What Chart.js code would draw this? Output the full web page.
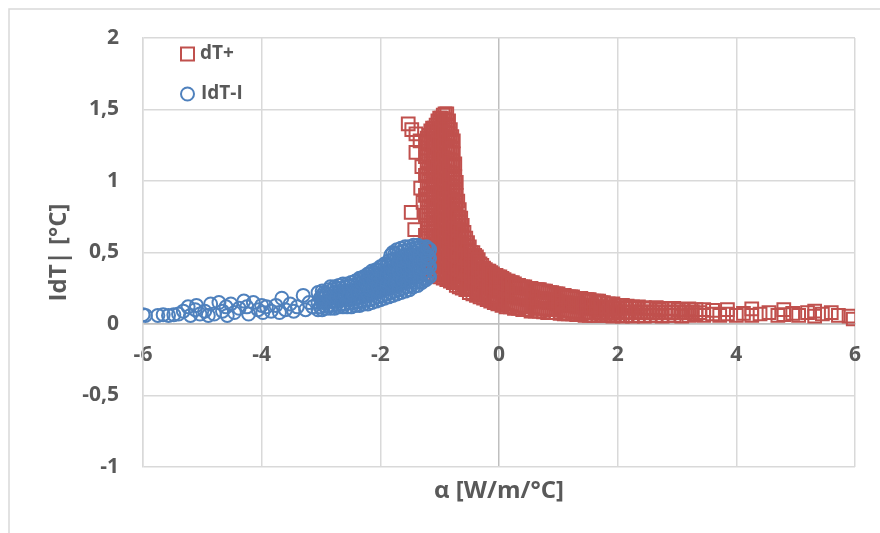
<!DOCTYPE html>
<html>
<head>
<meta charset="utf-8">
<script src="https://cdn.jsdelivr.net/npm/chart.js@4.4.0/dist/chart.umd.min.js"></script>
<style>
  html, body { margin: 0; padding: 0; background: #fff; }
</style>
</head>
<body>
<canvas id="chart" width="880" height="533"></canvas>
<script>
// values
const xTicks = [-6, -4, -2, 0, 2, 4, 6];
const yTicks = [-1, -0.5, 0, 0.5, 1, 1.5, 2];
const seriesNames = ['dT+', 'IdT-I'];
const xTitle = 'α [W/m/°C]';
const yTitle = 'IdT| [°C]';

// dT+ : isolated squares left of the peak
const dtPlusStray = [
    [-1.53, 1.40], [-1.47, 1.36], [-1.40, 1.33], [-1.33, 1.28], [-1.40, 1.20],
    [-1.30, 1.10], [-1.32, 0.95], [-1.28, 0.85], [-1.48, 0.78], [-1.42, 0.66]
];

// dT+ : x with the y values found at that x
const dtPlusCols = [
    [-1.24, [0.48, 0.62, 0.76, 0.90, 1.04, 1.17, 1.27]],
    [-1.18, [0.37, 0.46, 0.55, 0.64, 0.73, 0.82, 0.91, 1.00, 1.09, 1.18, 1.27, 1.32]],
    [-1.12, [0.35, 0.44, 0.53, 0.62, 0.71, 0.80, 0.89, 0.98, 1.07, 1.16, 1.25, 1.34, 1.37]],
    [-1.06, [0.34, 0.43, 0.52, 0.61, 0.70, 0.79, 0.88, 0.97, 1.06, 1.15, 1.24, 1.33, 1.39]],
    [-1.00, [0.33, 0.42, 0.51, 0.60, 0.69, 0.78, 0.87, 0.96, 1.05, 1.14, 1.23, 1.32, 1.41, 1.44]],
    [-0.94, [0.32, 0.41, 0.50, 0.59, 0.68, 0.77, 0.86, 0.95, 1.04, 1.13, 1.22, 1.31, 1.40, 1.46]],
    [-0.88, [0.31, 0.40, 0.49, 0.58, 0.67, 0.76, 0.85, 0.94, 1.03, 1.12, 1.21, 1.30, 1.39, 1.47]],
    [-0.82, [0.30, 0.39, 0.48, 0.57, 0.66, 0.75, 0.84, 0.93, 1.02, 1.11, 1.20, 1.29, 1.36]],
    [-0.77, [0.29, 0.38, 0.47, 0.56, 0.65, 0.74, 0.83, 0.92, 1.01, 1.10, 1.19, 1.28]],
    [-0.72, [0.27, 0.36, 0.45, 0.54, 0.63, 0.72, 0.81, 0.90, 0.99]],
    [-0.67, [0.26, 0.35, 0.44, 0.53, 0.62, 0.71, 0.80]],
    [-0.62, [0.25, 0.34, 0.43, 0.52, 0.61, 0.69]],
    [-0.56, [0.24, 0.33, 0.42, 0.51, 0.60]],
    [-0.50, [0.22, 0.31, 0.40, 0.48, 0.54]],
    [-0.44, [0.21, 0.30, 0.39, 0.46, 0.50]],
    [-0.38, [0.20, 0.29, 0.37, 0.44, 0.47]],
    [-0.32, [0.19, 0.28, 0.36, 0.42]],
    [-0.26, [0.18, 0.27, 0.34, 0.39]],
    [-0.20, [0.17, 0.26, 0.33, 0.37]],
    [-0.14, [0.16, 0.25, 0.31, 0.36]],
    [-0.08, [0.15, 0.24, 0.30, 0.34]],
    [-0.02, [0.14, 0.23, 0.29, 0.33]],
    [0.05, [0.13, 0.22, 0.28, 0.32]],
    [0.12, [0.12, 0.21, 0.27, 0.30]],
    [0.19, [0.12, 0.20, 0.26, 0.29]],
    [0.26, [0.11, 0.19, 0.25, 0.28]],
    [0.33, [0.11, 0.18, 0.27]],
    [0.40, [0.10, 0.18, 0.26]],
    [0.47, [0.10, 0.17, 0.25]],
    [0.54, [0.09, 0.17, 0.25]],
    [0.61, [0.09, 0.16, 0.24]],
    [0.68, [0.09, 0.16, 0.24]],
    [0.75, [0.085, 0.16, 0.23]],
    [0.82, [0.08, 0.15, 0.22]],
    [0.89, [0.08, 0.15, 0.22]],
    [0.96, [0.08, 0.14, 0.21]],
    [1.03, [0.075, 0.14, 0.20]],
    [1.10, [0.07, 0.13, 0.20]],
    [1.17, [0.07, 0.13, 0.19]],
    [1.24, [0.07, 0.13, 0.19]],
    [1.31, [0.065, 0.12, 0.18]],
    [1.38, [0.065, 0.12, 0.18]],
    [1.45, [0.06, 0.12, 0.17]],
    [1.52, [0.06, 0.11, 0.17]],
    [1.60, [0.06, 0.11, 0.16]],
    [1.68, [0.06, 0.11, 0.16]],
    [1.76, [0.06, 0.10, 0.15]],
    [1.84, [0.06, 0.14]],
    [1.92, [0.055, 0.14]],
    [2.00, [0.06, 0.13]],
    [2.08, [0.055, 0.13]],
    [2.16, [0.06, 0.125]],
    [2.25, [0.055, 0.12]],
    [2.35, [0.06, 0.12]],
    [2.45, [0.055, 0.115]],
    [2.55, [0.06, 0.11]],
    [2.65, [0.06, 0.115]],
    [2.75, [0.055, 0.11]],
    [2.85, [0.06, 0.105]],
    [2.95, [0.06, 0.11]],
    [3.08, [0.055, 0.10]],
    [3.20, [0.06, 0.105]],
    [3.32, [0.065, 0.10]],
    [3.45, [0.06, 0.10]],
    [3.60, [0.07, 0.095]],
    [3.72, [0.06]],
    [3.85, [0.07, 0.10]],
    [4.00, [0.06]],
    [4.12, [0.075]],
    [4.26, [0.105, 0.06]],
    [4.40, [0.07]],
    [4.55, [0.08]],
    [4.70, [0.06]],
    [4.80, [0.10, 0.065]],
    [4.95, [0.075]],
    [5.05, [0.06]],
    [5.20, [0.08]],
    [5.32, [0.09, 0.055]],
    [5.45, [0.07]],
    [5.60, [0.08]],
    [5.72, [0.06]],
    [5.90, [0.055]],
    [5.97, [0.035]]
];

// dT+ : more points in between, where the cloud is solid
const dtPlusColsMid = [
    [-1.21, [0.42, 0.51, 0.60, 0.69, 0.78, 0.87, 0.96, 1.05, 1.14, 1.23, 1.30]],
    [-1.15, [0.40, 0.49, 0.58, 0.67, 0.76, 0.85, 0.94, 1.03, 1.12, 1.21, 1.30, 1.35]],
    [-1.09, [0.38, 0.47, 0.56, 0.65, 0.74, 0.83, 0.92, 1.01, 1.10, 1.19, 1.28, 1.37]],
    [-1.03, [0.37, 0.46, 0.55, 0.64, 0.73, 0.82, 0.91, 1.00, 1.09, 1.18, 1.27, 1.36, 1.42]],
    [-0.97, [0.36, 0.45, 0.54, 0.63, 0.72, 0.81, 0.90, 0.99, 1.08, 1.17, 1.26, 1.35, 1.44]],
    [-0.91, [0.35, 0.44, 0.53, 0.62, 0.71, 0.80, 0.89, 0.98, 1.07, 1.16, 1.25, 1.34, 1.43, 1.47]],
    [-0.85, [0.34, 0.43, 0.52, 0.61, 0.70, 0.79, 0.88, 0.97, 1.06, 1.15, 1.24, 1.33, 1.42]],
    [-0.795, [0.33, 0.42, 0.51, 0.60, 0.69, 0.78, 0.87, 0.96, 1.05, 1.14, 1.23, 1.31]],
    [-0.745, [0.31, 0.40, 0.49, 0.58, 0.67, 0.76, 0.85, 0.94, 1.03, 1.12]],
    [-0.695, [0.30, 0.39, 0.48, 0.57, 0.66, 0.75, 0.86]],
    [-0.645, [0.29, 0.38, 0.47, 0.56, 0.65, 0.74]],
    [-0.59, [0.28, 0.37, 0.46, 0.55, 0.64]],
    [-0.53, [0.26, 0.35, 0.44, 0.52, 0.57]],
    [-0.47, [0.25, 0.34, 0.43, 0.50]],
    [-0.41, [0.24, 0.33, 0.41, 0.48]],
    [-0.35, [0.23, 0.32, 0.39, 0.45]],
    [-0.29, [0.22, 0.31, 0.37, 0.41]],
    [-0.23, [0.21, 0.30, 0.35, 0.38]],
    [-0.17, [0.20, 0.28, 0.34, 0.37]],
    [-0.11, [0.19, 0.27, 0.33, 0.35]],
    [-0.05, [0.18, 0.26, 0.31, 0.34]],
    [0.015, [0.17, 0.25, 0.30, 0.33]],
    [0.085, [0.16, 0.24, 0.29, 0.31]],
    [0.155, [0.15, 0.23, 0.28, 0.30]],
    [0.225, [0.14, 0.21, 0.27, 0.29]],
    [0.295, [0.13, 0.21, 0.27]],
    [0.365, [0.13, 0.20, 0.26]],
    [0.435, [0.12, 0.20, 0.26]],
    [0.505, [0.12, 0.19, 0.25]],
    [0.575, [0.12, 0.19, 0.24]],
    [0.645, [0.11, 0.18, 0.24]],
    [0.715, [0.11, 0.18, 0.23]],
    [0.785, [0.11, 0.17, 0.23]],
    [0.855, [0.10, 0.17, 0.22]],
    [0.925, [0.10, 0.16, 0.21]],
    [0.995, [0.10, 0.16, 0.21]],
    [1.065, [0.095, 0.15, 0.20]],
    [1.135, [0.09, 0.15, 0.19]],
    [1.205, [0.09, 0.14, 0.19]],
    [1.275, [0.085, 0.14, 0.18]],
    [1.345, [0.085, 0.14, 0.18]],
    [1.415, [0.08, 0.13, 0.17]],
    [1.485, [0.08, 0.13, 0.17]],
    [1.56, [0.08, 0.13, 0.16]],
    [1.64, [0.08, 0.12, 0.16]],
    [1.72, [0.075, 0.12, 0.15]],
    [1.80, [0.08, 0.12]],
    [1.88, [0.075, 0.12]],
    [1.96, [0.08, 0.11]],
    [2.04, [0.085, 0.115]],
    [2.12, [0.08, 0.11]],
    [2.20, [0.085, 0.115]],
    [2.30, [0.08, 0.11]],
    [2.40, [0.085]],
    [2.50, [0.08, 0.105]],
    [2.60, [0.085]],
    [2.70, [0.08, 0.10]],
    [2.80, [0.085]],
    [2.90, [0.08]],
    [3.02, [0.085, 0.10]],
    [3.14, [0.08]],
    [3.26, [0.085]],
    [3.38, [0.08]]
];

// |dT-| : scattered circles on the left
const dtMinusStray = [
    [-6.00, 0.065], [-5.96, 0.06], [-5.75, 0.06], [-5.66, 0.065], [-5.57, 0.06],
    [-5.48, 0.065], [-5.40, 0.07], [-5.32, 0.09], [-5.24, 0.12], [-5.20, 0.06],
    [-5.12, 0.10], [-5.10, 0.13], [-5.04, 0.07], [-4.96, 0.09], [-4.90, 0.06],
    [-4.86, 0.14], [-4.80, 0.07], [-4.72, 0.15], [-4.66, 0.09], [-4.60, 0.12],
    [-4.58, 0.06], [-4.52, 0.14], [-4.46, 0.08], [-4.38, 0.11], [-4.30, 0.16],
    [-4.25, 0.12], [-4.22, 0.07], [-4.14, 0.15], [-4.06, 0.10], [-4.00, 0.13],
    [-3.98, 0.08], [-3.92, 0.12], [-3.84, 0.09], [-3.76, 0.13], [-3.70, 0.08],
    [-3.66, 0.18], [-3.60, 0.10], [-3.52, 0.14], [-3.46, 0.09], [-3.40, 0.12],
    [-3.30, 0.20], [-3.26, 0.10], [-3.20, 0.15], [-3.14, 0.12]
];

// |dT-| : x with the y values found at that x
const dtMinusCols = [
    [-3.05, [0.10, 0.15, 0.22]],
    [-2.98, [0.10, 0.15, 0.20, 0.23]],
    [-2.91, [0.11, 0.16, 0.21]],
    [-2.84, [0.11, 0.16, 0.21, 0.26]],
    [-2.77, [0.11, 0.16, 0.22, 0.26]],
    [-2.70, [0.12, 0.17, 0.22, 0.27]],
    [-2.63, [0.12, 0.17, 0.22, 0.28]],
    [-2.56, [0.12, 0.17, 0.23, 0.28]],
    [-2.49, [0.12, 0.18, 0.23, 0.29]],
    [-2.42, [0.13, 0.18, 0.24, 0.30]],
    [-2.35, [0.13, 0.19, 0.25, 0.32]],
    [-2.28, [0.14, 0.20, 0.26, 0.33]],
    [-2.21, [0.14, 0.20, 0.26, 0.32, 0.35]],
    [-2.14, [0.15, 0.21, 0.27, 0.33, 0.37]],
    [-2.07, [0.16, 0.22, 0.28, 0.34, 0.38]],
    [-2.00, [0.17, 0.23, 0.29, 0.35, 0.40]],
    [-1.93, [0.18, 0.24, 0.30, 0.36, 0.42]],
    [-1.86, [0.19, 0.25, 0.31, 0.37, 0.44]],
    [-1.79, [0.20, 0.26, 0.32, 0.38, 0.45, 0.50]],
    [-1.72, [0.21, 0.27, 0.33, 0.39, 0.46, 0.52]],
    [-1.65, [0.22, 0.28, 0.34, 0.40, 0.47, 0.53]],
    [-1.58, [0.23, 0.29, 0.35, 0.41, 0.48, 0.54]],
    [-1.51, [0.24, 0.30, 0.36, 0.42, 0.48, 0.54]],
    [-1.44, [0.26, 0.32, 0.38, 0.44, 0.50, 0.55]],
    [-1.37, [0.27, 0.33, 0.39, 0.45, 0.51, 0.55]],
    [-1.30, [0.29, 0.35, 0.41, 0.47, 0.53]],
    [-1.23, [0.31, 0.37, 0.43, 0.49, 0.54]],
    [-1.17, [0.33, 0.40, 0.46, 0.52]]
];

// |dT-| : more points in between, where the cloud is solid
const dtMinusColsMid = [
    [-3.015, [0.12, 0.18]],
    [-2.945, [0.13, 0.18, 0.22]],
    [-2.875, [0.13, 0.19, 0.24]],
    [-2.805, [0.13, 0.19, 0.24]],
    [-2.735, [0.14, 0.19, 0.25]],
    [-2.665, [0.14, 0.20, 0.25]],
    [-2.595, [0.14, 0.20, 0.26]],
    [-2.525, [0.15, 0.20, 0.26]],
    [-2.455, [0.15, 0.21, 0.27]],
    [-2.385, [0.16, 0.22, 0.28]],
    [-2.315, [0.16, 0.23, 0.29, 0.32]],
    [-2.245, [0.17, 0.23, 0.29, 0.33]],
    [-2.175, [0.17, 0.24, 0.30, 0.35]],
    [-2.105, [0.18, 0.25, 0.31, 0.36]],
    [-2.035, [0.19, 0.26, 0.32, 0.38]],
    [-1.965, [0.20, 0.26, 0.33, 0.40]],
    [-1.895, [0.21, 0.27, 0.34, 0.41]],
    [-1.825, [0.22, 0.28, 0.35, 0.41, 0.48]],
    [-1.755, [0.23, 0.29, 0.36, 0.42, 0.49]],
    [-1.685, [0.24, 0.30, 0.37, 0.43, 0.50]],
    [-1.615, [0.25, 0.31, 0.38, 0.44, 0.51]],
    [-1.545, [0.26, 0.33, 0.39, 0.45, 0.51]],
    [-1.475, [0.27, 0.34, 0.40, 0.46, 0.52]],
    [-1.405, [0.29, 0.36, 0.42, 0.48, 0.53]],
    [-1.335, [0.30, 0.37, 0.43, 0.49, 0.54]],
    [-1.265, [0.32, 0.39, 0.45, 0.51]],
    [-1.20, [0.34, 0.41, 0.47, 0.53]]
];

const red = '#C0504D';
const blue = '#4F81BD';
const textGrey = '#595959';
const fontFamily = "'Open Sans', sans-serif";

function toPoints(stray, colsList) {
    const pts = stray.map(p => ({ x: p[0], y: p[1] }));
    colsList.forEach(cols => {
        cols.forEach(c => c[1].forEach(y => pts.push({ x: c[0], y: y })));
    });
    return pts;
}

function commaLabel(v) {
    return String(v).replace('.', ',');
}

function gridColor(ctx) {
    return ctx.tick && ctx.tick.value === 0 ? '#bfbfbf' : '#d9d9d9';
}

// white page + light outer frame of the chart object
const framePlugin = {
    id: 'frame',
    beforeDraw(chart) {
        const ctx = chart.ctx;
        ctx.save();
        ctx.fillStyle = '#fff';
        ctx.fillRect(0, 0, chart.width, chart.height);
        ctx.strokeStyle = '#d9d9d9';
        ctx.lineWidth = 1.5;
        ctx.strokeRect(9, 9, 900, 600);
        ctx.restore();
    }
};

// legend inside the plot and the x title under it
const overlayPlugin = {
    id: 'overlay',
    afterDraw(chart) {
        const ctx = chart.ctx;
        ctx.save();
        ctx.lineWidth = 2;
        ctx.strokeStyle = red;
        ctx.strokeRect(181, 47.5, 13, 13);
        ctx.strokeStyle = blue;
        ctx.beginPath();
        ctx.arc(187.5, 94, 6.5, 0, Math.PI * 2);
        ctx.stroke();

        ctx.fillStyle = textGrey;
        ctx.textBaseline = 'middle';
        ctx.textAlign = 'left';
        ctx.font = 'bold 19px ' + fontFamily;
        ctx.fillText(seriesNames[0], 200, 54);
        ctx.fillText(seriesNames[1], 201, 94);

        ctx.textAlign = 'center';
        ctx.font = 'bold 24px ' + fontFamily;
        ctx.fillText(xTitle, 499, 491);
        ctx.restore();
    }
};

new Chart(document.getElementById('chart'), {
    type: 'scatter',
    data: {
        datasets: [{
            label: seriesNames[0],
            data: toPoints(dtPlusStray, [dtPlusCols, dtPlusColsMid]),
            pointStyle: 'rect',
            pointRadius: 9,
            borderWidth: 2,
            borderColor: red,
            backgroundColor: 'rgba(0,0,0,0)',
            order: 2
        }, {
            label: seriesNames[1],
            data: toPoints(dtMinusStray, [dtMinusCols, dtMinusColsMid]),
            pointStyle: 'circle',
            pointRadius: 6.5,
            borderWidth: 2,
            borderColor: blue,
            backgroundColor: 'rgba(0,0,0,0)',
            order: 1
        }]
    },
    options: {
        responsive: false,
        animation: false,
        events: [],
        layout: { padding: { left: 10, top: 38, right: 25, bottom: 66 } },
        plugins: {
            legend: { display: false },
            tooltip: { enabled: false }
        },
        scales: {
            x: {
                type: 'linear',
                position: { y: 0 },
                min: -6,
                max: 6,
                afterBuildTicks: axis => { axis.ticks = xTicks.map(v => ({ value: v })); },
                grid: { color: gridColor, lineWidth: 1.5, drawTicks: false },
                border: { color: '#bfbfbf', width: 1.5 },
                ticks: {
                    padding: 18,
                    color: textGrey,
                    font: { family: fontFamily, size: 21, weight: 'bold' }
                }
            },
            y: {
                min: -1,
                max: 2,
                afterBuildTicks: axis => { axis.ticks = yTicks.map(v => ({ value: v })); },
                afterFit: axis => { axis.width = 133; },
                grid: { color: gridColor, lineWidth: 1.5, drawTicks: false },
                border: { color: '#d9d9d9', width: 1.5 },
                ticks: {
                    padding: 24,
                    color: textGrey,
                    font: { family: fontFamily, size: 21, weight: 'bold' },
                    callback: v => commaLabel(v)
                },
                title: {
                    display: true,
                    text: yTitle,
                    color: textGrey,
                    font: { family: fontFamily, size: 24, weight: 'bold' },
                    padding: { top: 35, bottom: 0 }
                }
            }
        }
    },
    plugins: [framePlugin, overlayPlugin]
});
</script>
</body>
</html>
